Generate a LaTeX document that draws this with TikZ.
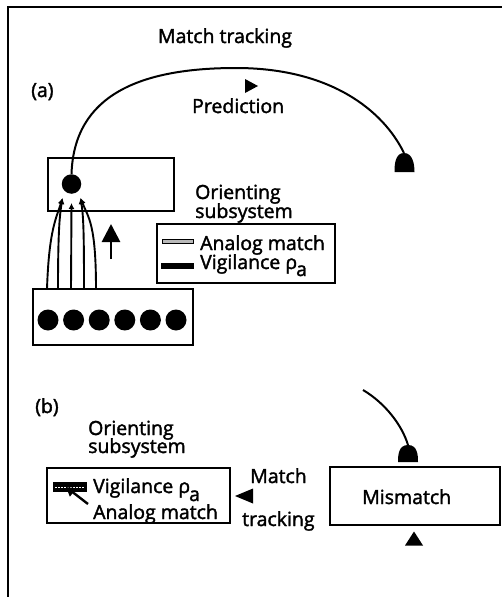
\documentclass[tikz,border=0pt]{standalone}
\usepackage{fontspec}
\setmainfont[FakeBold=1.8]{Open Sans}
\usetikzlibrary{arrows.meta,calc}
\begin{document}
\begin{tikzpicture}[x=1pt,y=-1pt,
  lbl/.style={inner sep=0pt, font=\fontsize{19.5}{22}\selectfont},
  boxnode/.style={draw, line width=2pt, inner sep=0pt},
  unit/.style={circle, fill, inner sep=0pt, minimum size=21pt},
  conn/.style={line width=2pt},
  smallarr/.style={-{Latex[length=6pt,width=6pt]}, line width=1.9pt},
  fatarr/.style={-{Triangle[length=18pt,width=18pt]}, line width=2.8pt},
  midarr/.style={-{Triangle[length=9pt,width=10pt]}, line width=2.4pt}
]
\useasboundingbox (0,0) rectangle (502,597);
% frame
\draw[line width=1.8pt] (8,597) -- (8,7) -- (502,7);

% ---------- (a) ----------
\node[lbl, anchor=base] (mt) at (225,43) {Match tracking};
\node[lbl, anchor=base west] (la) at (31,97) {(a)};
\node[lbl, anchor=base west] (pred) at (192,113) {Prediction};
\coordinate (ptri) at (251,86);
\fill (ptri) ++(-6,-7) -- ++(13,7) -- ++(-13,7) -- cycle;

% F2 box and unit
\node[boxnode, minimum width=126pt, minimum height=53pt] (f2) at (111,184.5) {};
\node[unit, minimum size=19.5pt] (c2) at (71.5,184) {};

% dome (a)
\coordinate (domeA) at (404,153);
\fill (404,172) -- (394.5,172) .. controls (394.5,165) and (395,153) .. (404,153)
  .. controls (413,153) and (414.5,165) .. (414.5,172) -- cycle;

% prediction arc
\draw[conn] (c2.north) .. controls (74,95) and (140,68) .. (236,68)
  .. controls (330,68) and (383,110) .. (domeA);

% F1 box
\node[boxnode, minimum width=160pt, minimum height=56pt] (f1) at (113,317) {};
\foreach \i/\x in {1/48,2/73.6,3/99.2,4/124.8,5/150.4,6/176}
  \node[unit] (u\i) at (\x,320) {};

% converging arrows
\coordinate (s1) at (47,289);
\coordinate (s2) at (58,289);
\coordinate (s3) at (71,289);
\coordinate (s4) at (84,289);
\coordinate (s5) at (96,289);
\coordinate (tl) at (62.5,198);
\coordinate (tm) at (71.5,203);
\coordinate (tr) at (80.5,198);
\draw[smallarr] (s1) .. controls +(2,-60) and +(-6,20) .. (tl);
\draw[smallarr] (s2) .. controls +(0,-55) and +(-3,18) .. (tl);
\draw[smallarr] (s3) -- (tm);
\draw[smallarr] (s4) .. controls +(0,-55) and +(3,18) .. (tr);
\draw[smallarr] (s5) .. controls +(0,-65) and +(8,20) .. (tr);

% up arrow
\coordinate (upa) at (111,259);
\coordinate (upb) at (111,224);
\draw[fatarr] (upa) -- (upb);

% orienting subsystem (a)
\node[lbl, anchor=base west] (ora1) at (195,199) {Orienting};
\node[lbl, anchor=base west] (ora2) at (195,218) {subsystem};
\node[boxnode, minimum width=178pt, minimum height=59pt] (osa) at (246,253.5) {};
\draw[line width=0.8pt, fill=gray!55] (162,239) rectangle (193,243.5);
\fill (161,263) rectangle (194,268.5);
\node[lbl, anchor=base west] (ama) at (200,250) {Analog match};
\node[lbl, anchor=base west] (vga) at (200,269) {Vigilance ρ\kern-1pt\raisebox{-7pt}{a}};

% ---------- (b) ----------
\node[lbl, anchor=base west] (lb) at (35,413) {(b)};
\node[lbl, anchor=base west] (orb1) at (88,435) {Orienting};
\node[lbl, anchor=base west] (orb2) at (88,453) {subsystem};
\node[boxnode, minimum width=183pt, minimum height=55pt] (osb) at (138.5,495.5) {};
\fill (53,482) rectangle (87,492);
\draw[white, line width=0.8pt, dash pattern=on 2pt off 1pt] (55,487.5) -- (85,487.5);
\node[lbl, anchor=base west] (vgb) at (93,493) {Vigilance ρ\kern-1pt\raisebox{-8pt}{a}};
\node[lbl, anchor=base west] (amb) at (93,519) {Analog match};
\coordinate (aa) at (88,504);
\coordinate (ab) at (66,487);
\draw[midarr] (aa) -- (ab);

\coordinate (ltri) at (244,496);
\fill (ltri) ++(9,-7.5) -- ++(-18,7.5) -- ++(18,7.5) -- cycle;
\node[lbl, anchor=base west] (mtb1) at (250,483) {Match};
\node[lbl, anchor=base west] (mtb2) at (242,526) {tracking};

\node[boxnode, minimum width=170pt, minimum height=58pt] (mm) at (415,496) {};
\node[lbl, anchor=base west] (mmt) at (362,504) {Mismatch};

% dome (b)
\coordinate (domeB) at (408,445);
\fill (408,462) -- (398,462) .. controls (398,455) and (398.5,445) .. (408,445)
  .. controls (417.5,445) and (418,455) .. (418,462) -- cycle;
\coordinate (cstart) at (363,390);
\draw[conn] (cstart) .. controls (385,403) and (402,425) .. (domeB);

\coordinate (utri) at (414,538.5);
\fill (utri) ++(-9,7) -- ++(9,-14) -- ++(9,14) -- cycle;
\end{tikzpicture}
\end{document}
